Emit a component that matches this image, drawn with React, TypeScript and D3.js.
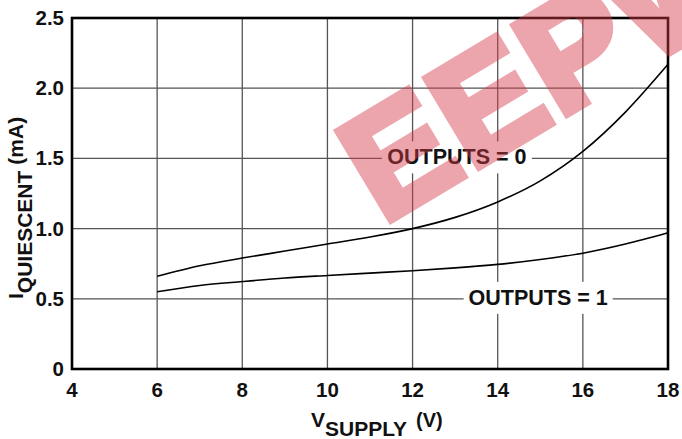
import React from "react";
import * as d3 from "d3";

// Supply voltage samples (V)
const vSupply = [6, 7, 8, 9, 10, 11, 12, 13, 14, 15, 16, 17, 18];
// Quiescent current (mA), all outputs low
const iqOutputs0 = [0.66, 0.735, 0.79, 0.84, 0.89, 0.94, 1.0, 1.08, 1.19, 1.34, 1.55, 1.83, 2.17];
// Quiescent current (mA), all outputs high
const iqOutputs1 = [0.55, 0.595, 0.623, 0.648, 0.666, 0.683, 0.7, 0.72, 0.745, 0.78, 0.825, 0.89, 0.97];

const xTicks = [4, 6, 8, 10, 12, 14, 16, 18];
const yTicks = [0, 0.5, 1.0, 1.5, 2.0, 2.5];
const yTickLabels = ["0", "0.5", "1.0", "1.5", "2.0", "2.5"];

const W = 682;
const H = 439;
const FONT = "'Liberation Sans', Arial, Helvetica, sans-serif";

export default function App() {
  const x = d3.scaleLinear().domain([4, 18]).range([72, 668]);
  const y = d3.scaleLinear().domain([0, 2.5]).range([369, 18]);

  const line = d3
    .line<number>()
    .x((_, i) => x(vSupply[i]))
    .y((d) => y(d))
    .curve(d3.curveMonotoneX);

  const [x0, x1] = x.range();
  const [yb, yt] = y.range();

  const labels = [
    { text: "OUTPUTS = 0", v: 13.04, i: 1.5, w: 150 },
    { text: "OUTPUTS = 1", v: 14.95, i: 0.5, w: 149 },
  ];

  return (
    <svg
      width={W}
      height={H}
      viewBox={`0 0 ${W} ${H}`}
      style={{ position: "absolute", left: 0, top: 0, background: "#fff" }}
    >
      <rect width={W} height={H} fill="#fff" />

      {/* grid */}
      <g stroke="#555" strokeWidth={1.3}>
        {xTicks.slice(1, -1).map((t) => (
          <line key={"gx" + t} x1={x(t)} x2={x(t)} y1={yt} y2={yb} />
        ))}
        {yTicks.slice(1, -1).map((t) => (
          <line key={"gy" + t} x1={x0} x2={x1} y1={y(t)} y2={y(t)} />
        ))}
      </g>

      {/* curve labels sitting in gaps of the grid */}
      {labels.map((l) => (
        <g key={l.text}>
          <rect x={x(l.v) - l.w / 2} y={y(l.i) - 17} width={l.w} height={32} fill="#fff" />
          <text
            x={x(l.v)}
            y={y(l.i) + 6}
            textAnchor="middle"
            fontFamily={FONT}
            fontWeight="bold"
            fontSize={21.5}
            fill="#111"
          >
            {l.text}
          </text>
        </g>
      ))}

      {/* curves */}
      <g fill="none" stroke="#000" strokeWidth={1.6}>
        <path d={line(iqOutputs0) ?? ""} />
        <path d={line(iqOutputs1) ?? ""} />
      </g>

      {/* frame */}
      <rect
        x={x0}
        y={yt}
        width={x1 - x0}
        height={yb - yt}
        fill="none"
        stroke="#000"
        strokeWidth={2.6}
      />

      {/* tick labels */}
      <g fontFamily={FONT} fontWeight="bold" fontSize={20.5} fill="#111">
        {yTicks.map((t, i) => (
          <text key={"ty" + t} x={x0 - 8} y={y(t) + 7} textAnchor="end">
            {yTickLabels[i]}
          </text>
        ))}
        {xTicks.map((t) => (
          <text key={"tx" + t} x={x(t)} y={397} textAnchor="middle">
            {t}
          </text>
        ))}
      </g>

      {/* axis titles */}
      <text x={311} y={427} fontFamily={FONT} fontWeight="bold" fontSize={21} fill="#111">
        <tspan>V</tspan>
        <tspan dy={8.5}>SUPPLY</tspan>
        <tspan dy={-8.5} dx={9} fontSize={20}>(V)</tspan>
      </text>
      <text
        transform="translate(23,299) rotate(-90)"
        fontFamily={FONT}
        fontWeight="bold"
        fontSize={21}
        fill="#111"
      >
        <tspan>I</tspan>
        <tspan dy={9}>QUIESCENT</tspan>
        <tspan dy={-9} dx={6}>(mA)</tspan>
      </text>

      {/* EEPW mark */}
      <g opacity={0.45}>
        <text
          transform="translate(383,224) rotate(-31)"
          fontFamily={FONT}
          fontWeight="bold"
          fontSize={148}
          letterSpacing={4}
          fill="#d63a48"
          stroke="#d63a48"
          strokeWidth={9}
          strokeLinejoin="miter"
        >
          EEPW
        </text>
      </g>
    </svg>
  );
}
